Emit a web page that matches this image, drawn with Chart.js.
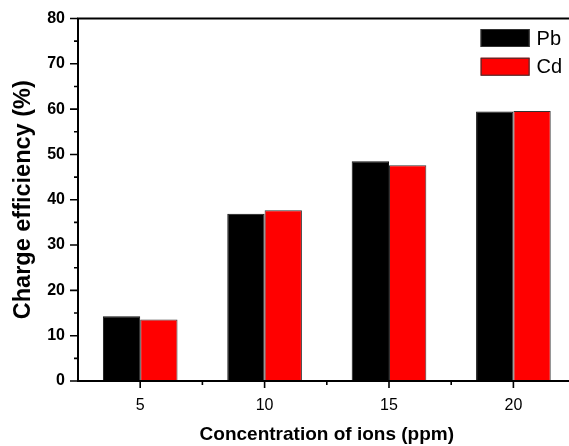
<!DOCTYPE html>
<html>
<head>
<meta charset="utf-8">
<script src="https://cdn.jsdelivr.net/npm/chart.js@4.4.1/dist/chart.umd.min.js"></script>
<style>
  html, body { margin: 0; padding: 0; background: #fff; overflow: hidden; }
  #wrap { width: 578px; height: 446px; }
</style>
</head>
<body>
<div id="wrap"><canvas id="c" width="578" height="446"></canvas></div>
<script>
const categories = ['5', '10', '15', '20'];
const pbValues = [14.3, 36.9, 48.5, 59.5];
const cdValues = [13.6, 37.7, 47.6, 59.6];
const yMajorTicks = [0, 10, 20, 30, 40, 50, 60, 70, 80];
const yMinorTicks = [5, 15, 25, 35, 45, 55, 65, 75];
const FONT = "'Liberation Sans', Arial, sans-serif";

const framePlugin = {
  id: 'frame',
  afterDatasetsDraw(chart) {
    const { ctx, chartArea: a, scales } = chart;
    const xs = scales.x, ys = scales.y;
    ctx.save();
    ctx.strokeStyle = '#000';
    ctx.lineWidth = 1.6;
    ctx.beginPath();
    yMajorTicks.forEach(v => {
      const y = ys.getPixelForValue(v);
      ctx.moveTo(a.left - 8, y); ctx.lineTo(a.left, y);
    });
    yMinorTicks.forEach(v => {
      const y = ys.getPixelForValue(v);
      ctx.moveTo(a.left - 4, y); ctx.lineTo(a.left, y);
    });
    const n = categories.length;
    for (let i = 0; i < n; i++) {
      const x = xs.getPixelForValue(i);
      ctx.moveTo(x, a.bottom); ctx.lineTo(x, a.bottom + 7);
      if (i < n - 1) {
        const xm = (x + xs.getPixelForValue(i + 1)) / 2;
        ctx.moveTo(xm, a.bottom); ctx.lineTo(xm, a.bottom + 4);
      }
    }
    ctx.stroke();
    ctx.lineWidth = 2;
    ctx.strokeRect(a.left, a.top, a.right - a.left, a.bottom - a.top);
    // legend
    const bx = a.right - 95, by0 = a.top + 10.5, bw = 49, bh = 18, gap = 28.7;
    ctx.font = '20px ' + FONT;
    ctx.textBaseline = 'middle';
    ctx.textAlign = 'left';
    chart.data.datasets.forEach((ds, i) => {
      const by = by0 + i * gap;
      ctx.fillStyle = ds.backgroundColor;
      ctx.fillRect(bx, by, bw, bh);
      ctx.lineWidth = 1;
      ctx.strokeStyle = '#333';
      ctx.strokeRect(bx + 0.5, by + 0.5, bw - 1, bh - 1);
      ctx.fillStyle = '#000';
      ctx.fillText(ds.label, bx + 56, by + bh / 2 + 1);
    });
    ctx.restore();
  }
};

new Chart(document.getElementById('c'), {
  type: 'bar',
  data: {
    labels: categories,
    datasets: [
      { label: 'Pb', data: pbValues, backgroundColor: '#000000', borderColor: '#111', borderWidth: 1 },
      { label: 'Cd', data: cdValues, backgroundColor: '#ff0000', borderColor: '#333', borderWidth: 1 }
    ]
  },
  options: {
    responsive: false,
    animation: false,
    devicePixelRatio: 1,
    layout: { padding: { top: 18.5, right: 2.4, left: 0, bottom: 0 } },
    plugins: { legend: { display: false }, tooltip: { enabled: false } },
    datasets: { bar: { categoryPercentage: 0.6, barPercentage: 1.0 } },
    scales: {
      x: {
        type: 'category',
        offset: true,
        grid: { display: false, drawTicks: false },
        border: { display: false },
        ticks: { color: '#000', font: { family: FONT, size: 16 }, padding: 15, maxRotation: 0 },
        title: { display: true, text: 'Concentration of ions (ppm)', color: '#000',
                 font: { family: FONT, size: 19, weight: 'bold' }, padding: { top: -3, bottom: 0 } },
        afterFit(s) { s.height = 65; s.paddingLeft = 0; s.paddingRight = 0; }
      },
      y: {
        min: 0, max: 80,
        grid: { display: false, drawTicks: false },
        border: { display: false },
        ticks: { stepSize: 10, color: '#000', font: { family: FONT, size: 16, weight: 'bold' }, padding: 13 },
        title: { display: true, text: 'Charge efficiency (%)', color: '#000',
                 font: { family: FONT, size: 23.5, weight: 'bold' }, padding: { top: 9, bottom: 0 } },
        afterFit(s) { s.width = 78; s.paddingTop = 0; s.paddingBottom = 0; }
      }
    }
  },
  plugins: [framePlugin]
});
</script>
</body>
</html>
